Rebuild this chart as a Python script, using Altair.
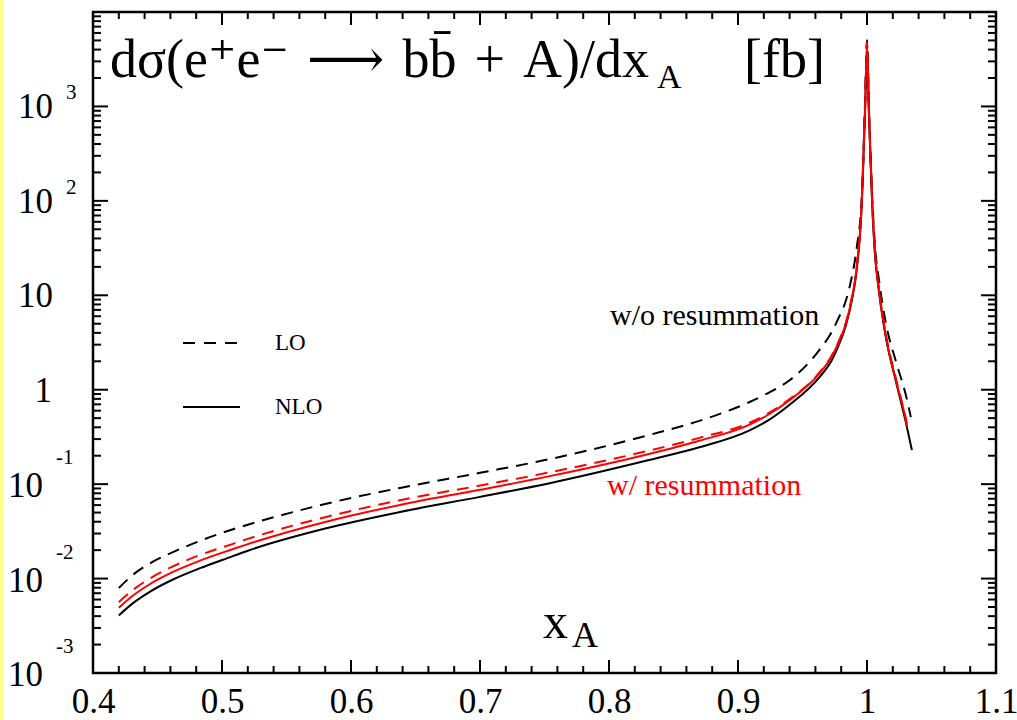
import altair as alt
import pandas as pd

# ---------------- data ----------------
# x positions of the read-off points (left branch up to the peak, then right branch)
X_LEFT = [0.42, 0.431, 0.444, 0.462, 0.483, 0.508, 0.52, 0.58, 0.638, 0.70, 0.754,
          0.831, 0.87, 0.909, 0.924, 0.94, 0.963, 0.973, 0.978, 0.984, 0.988, 0.992,
          0.996, 0.9985, 1.0]
X_RIGHT = [1.0015, 1.004, 1.0062, 1.0093, 1.0147, 1.0224, 1.0302]

# curve heights, read as powers of ten on the log axis (decade exponents)
LO_NORES_LOG10 = [-2.10, -1.96, -1.84, -1.72, -1.60, -1.48, -1.43, -1.21, -1.04, -0.88,
                  -0.735, -0.48, -0.33, -0.13, -0.03, 0.10, 0.42, 0.62, 0.76, 0.96, 1.18,
                  1.50, 2.05, 3.05, 3.70,
                  3.0, 2.05, 1.52, 1.16, 0.70, 0.30, -0.06, -0.29]
LO_NORES_END = 1.034

LO_RES_LOG10 = [-2.25, -2.12, -2.00, -1.87, -1.75, -1.635, -1.58, -1.35, -1.17, -1.015,
                -0.875, -0.645, -0.51, -0.35, -0.245, -0.10, 0.18, 0.37, 0.51, 0.73, 0.96,
                1.30, 2.01, 3.0, 3.68,
                2.95, 2.0, 1.46, 1.07, 0.58, 0.12, -0.31, -0.36]
LO_RES_END = 1.031

NLO_RES_LOG10 = [-2.31, -2.18, -2.06, -1.93, -1.81, -1.69, -1.635, -1.40, -1.22, -1.06,
                 -0.915, -0.68, -0.54, -0.37, -0.26, -0.11, 0.17, 0.36, 0.50, 0.72, 0.95,
                 1.29, 2.00, 2.98, 3.66,
                 2.93, 1.98, 1.44, 1.05, 0.56, 0.10, -0.33, -0.39]
NLO_RES_END = 1.031

NLO_NORES_LOG10 = [-2.39, -2.26, -2.14, -2.01, -1.89, -1.765, -1.705, -1.47, -1.295, -1.135,
                   -0.99, -0.745, -0.61, -0.43, -0.32, -0.16, 0.13, 0.32, 0.47, 0.70, 0.93,
                   1.27, 1.98, 2.95, 3.64,
                   2.92, 1.97, 1.43, 1.04, 0.55, 0.09, -0.35, -0.64]
NLO_NORES_END = 1.0348

X_LABELS = [0.4, 0.5, 0.6, 0.7, 0.8, 0.9, 1.0, 1.1]
X_MAJOR_TICKS = [0.5, 0.6, 0.7, 0.8, 0.9, 1.0]
X_MINOR_TICKS = [round(0.4 + 0.02 * i, 2) for i in range(1, 35) if i % 5]
Y_MAJOR_TICKS = [1e-2, 1e-1, 1, 10, 100, 1000]
Y_MINOR_TICKS = [m * 10.0 ** e for e in range(-3, 4) for m in range(2, 10)]

POS_DECADES = [1000, 100, 10]
POS_EXPONENTS = ["3", "2", ""]
NEG_DECADES = [0.1, 0.01, 0.001]
NEG_EXPONENTS = ["-1", "-2", "-3"]

TITLE_MAIN = "dσ(e⁺e⁻\u2004⟶\u2004bb̄\u2004+\u2004A)/dx"
TITLE_SUB = "A"
TITLE_UNIT = "[fb]"

SERIF = "Liberation Serif, DejaVu Serif, serif"

# ---------------- scales / axes ----------------
W, H = 903, 661
xscale = alt.Scale(domain=[0.4, 1.1], nice=False, zero=False)
yscale = alt.Scale(type="log", domain=[1e-3, 1e4], nice=False)
xaxis = alt.Axis(values=X_LABELS, format=".2~f", ticks=False, domain=False, grid=False,
                 title=None, labelFont=SERIF, labelFontSize=35, labelColor="black",
                 labelPadding=11, labelFlush=False, labelOverlap=False)


def curve(log_values, end_x):
    xs = X_LEFT + X_RIGHT + [end_x]
    return pd.DataFrame({"x": xs, "y": [10.0 ** v for v in log_values]})


def line_layer(df, color, dash=None):
    kw = dict(color=color, strokeWidth=2, interpolate="monotone", clip=True)
    if dash:
        kw["strokeDash"] = dash
    return alt.Chart(df).mark_line(**kw).encode(
        x=alt.X("x:Q", scale=xscale, axis=xaxis),
        y=alt.Y("y:Q", scale=yscale, axis=None),
    )


DASH = [12, 8]
lines = [
    line_layer(curve(LO_NORES_LOG10, LO_NORES_END), "black", DASH),
    line_layer(curve(LO_RES_LOG10, LO_RES_END), "#ff0000", DASH),
    line_layer(curve(NLO_NORES_LOG10, NLO_NORES_END), "black"),
    line_layer(curve(NLO_RES_LOG10, NLO_RES_END), "#ff0000"),
]


# ---------------- inward ticks on all four sides ----------------
def xticks(values, length):
    df = pd.DataFrame({"x": values})
    base = alt.Chart(df).mark_rule(color="black", strokeWidth=2)
    bottom = base.encode(x=alt.X("x:Q", scale=xscale, axis=xaxis),
                         y=alt.value(H), y2=alt.value(H - length))
    top = base.encode(x=alt.X("x:Q", scale=xscale, axis=xaxis),
                      y=alt.value(0), y2=alt.value(length))
    return [bottom, top]


def yticks(values, length):
    df = pd.DataFrame({"y": values})
    base = alt.Chart(df).mark_rule(color="black", strokeWidth=2)
    left = base.encode(y=alt.Y("y:Q", scale=yscale, axis=None),
                       x=alt.value(0), x2=alt.value(length))
    right = base.encode(y=alt.Y("y:Q", scale=yscale, axis=None),
                        x=alt.value(W), x2=alt.value(W - length))
    return [left, right]


ticks = (xticks(X_MAJOR_TICKS, 13) + xticks(X_MINOR_TICKS, 7)
         + yticks(Y_MAJOR_TICKS, 15) + yticks(Y_MINOR_TICKS, 8))

# ---------------- y tick labels (10 with exponent) ----------------
pos_df = pd.DataFrame({"y": POS_DECADES, "exp": POS_EXPONENTS})
neg_df = pd.DataFrame({"y": NEG_DECADES, "exp": NEG_EXPONENTS})
one_df = pd.DataFrame({"y": [1], "t": ["1"]})

ylab = [
    alt.Chart(pos_df).mark_text(text="10", font=SERIF, fontSize=35, align="right",
                                baseline="middle", dy=1).encode(
        y=alt.Y("y:Q", scale=yscale, axis=None), x=alt.value(-40)),
    alt.Chart(pos_df).mark_text(font=SERIF, fontSize=21, align="left",
                                baseline="middle", dy=-13).encode(
        y=alt.Y("y:Q", scale=yscale, axis=None), x=alt.value(-27), text="exp:N"),
    alt.Chart(neg_df).mark_text(text="10", font=SERIF, fontSize=35, align="right",
                                baseline="middle", dy=2).encode(
        y=alt.Y("y:Q", scale=yscale, axis=None), x=alt.value(-50)),
    alt.Chart(neg_df).mark_text(font=SERIF, fontSize=21, align="left",
                                baseline="middle", dy=-26).encode(
        y=alt.Y("y:Q", scale=yscale, axis=None), x=alt.value(-37), text="exp:N"),
    alt.Chart(one_df).mark_text(font=SERIF, fontSize=35, align="right",
                                baseline="middle", dy=1).encode(
        y=alt.Y("y:Q", scale=yscale, axis=None), x=alt.value(-41), text="t:N"),
]

# ---------------- annotations ----------------
one = alt.Data(values=[{}])


def label(text, x, y, size, color="black", align="left", baseline="alphabetic"):
    return alt.Chart(one).mark_text(text=text, font=SERIF, fontSize=size, color=color,
                                    align=align, baseline=baseline).encode(
        x=alt.value(x), y=alt.value(y))


annotations = [
    label(TITLE_MAIN, 17, 65, 54),
    label(TITLE_SUB, 564, 76, 34),
    label(TITLE_UNIT, 732, 65, 54, align="right"),
    label("x", 450, 626, 50),
    label("A", 479, 635, 36),
    label("LO", 182, 331, 23, baseline="middle"),
    label("NLO", 182, 395, 23, baseline="middle"),
    label("w/o resummation", 517, 304, 30, baseline="middle"),
    label("w/ resummation", 514, 474, 30, color="#ff0000", baseline="middle"),
]

legend_lines = [
    alt.Chart(one).mark_rule(color="black", strokeWidth=2, strokeDash=[12, 9]).encode(
        x=alt.value(90), x2=alt.value(147), y=alt.value(331)),
    alt.Chart(one).mark_rule(color="black", strokeWidth=2).encode(
        x=alt.value(90), x2=alt.value(147), y=alt.value(395)),
]

edge = alt.Chart(one).mark_rect(color="#ffff88").encode(
    x=alt.value(-93), x2=alt.value(-90), y=alt.value(-12), y2=alt.value(708))

chart = alt.layer(*(lines + ticks + ylab + annotations + legend_lines + [edge])).properties(
    width=W, height=H,
    autosize=alt.AutoSizeParams(type="none"),
    padding={"left": 93, "top": 12, "right": 21, "bottom": 47},
    background="white",
).configure_view(stroke="black", strokeWidth=2.5).configure_axis(grid=False)

chart.save("out.html", embed_options={"renderer": "svg", "actions": False})
